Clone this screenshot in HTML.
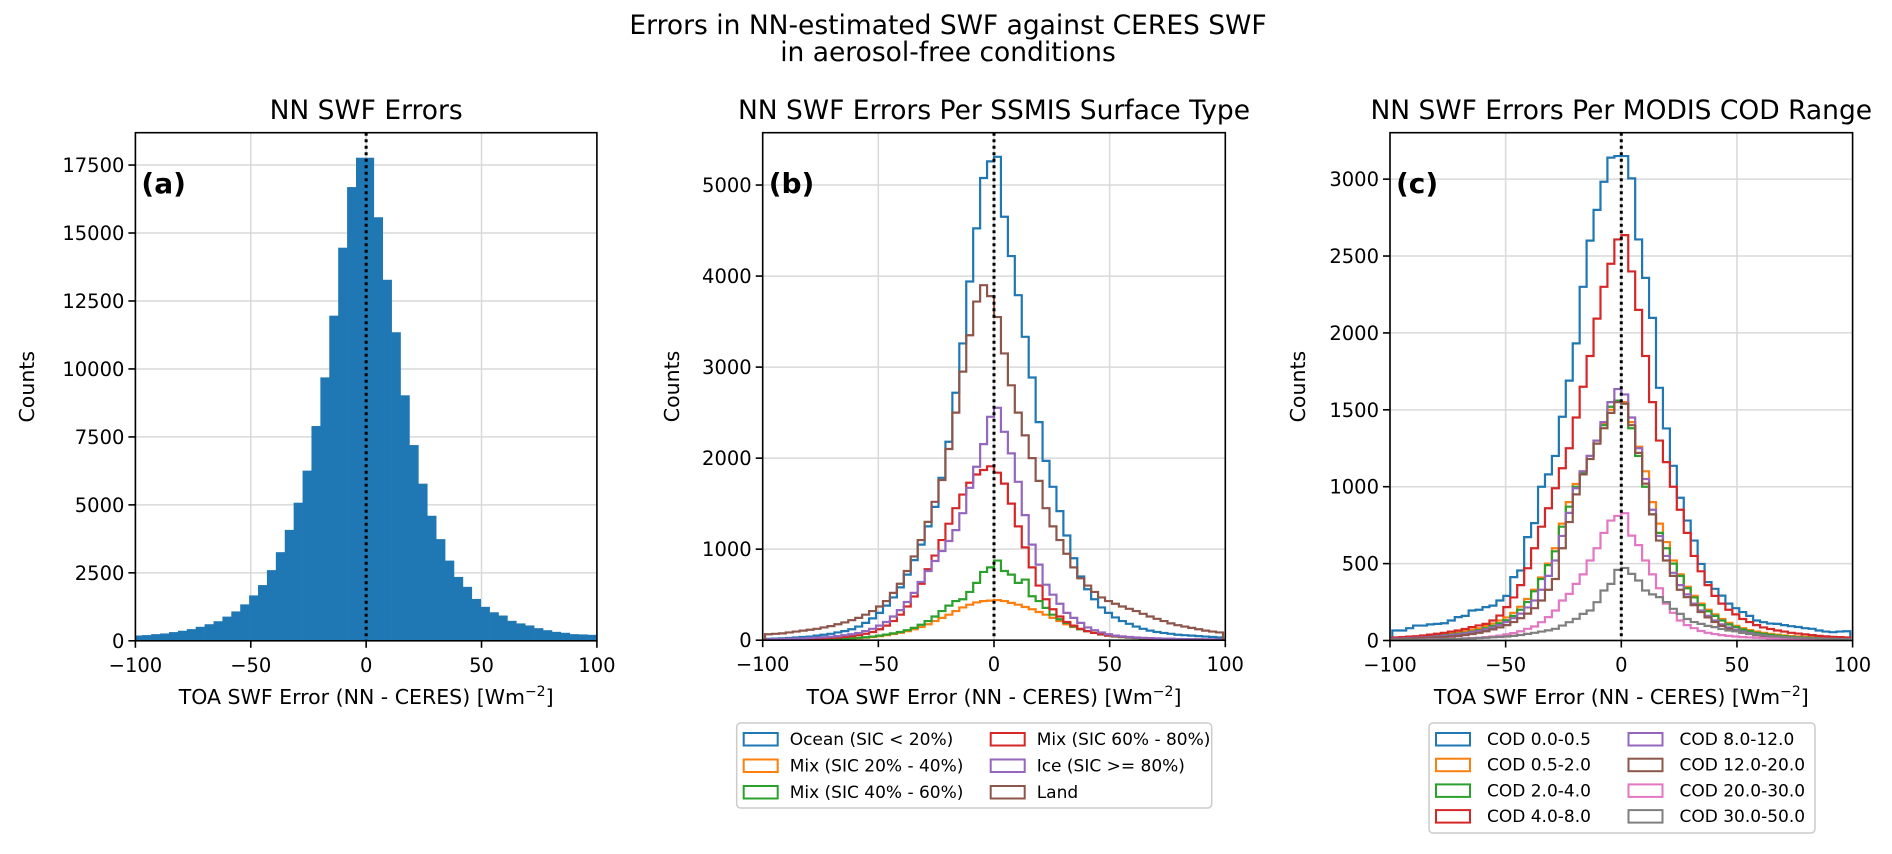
<!DOCTYPE html>
<html><head><meta charset="utf-8">
<style>
html,body{margin:0;padding:0;background:#fff;}
svg{display:block;font-family:"DejaVu Sans","Liberation Sans",sans-serif;}
</style></head>
<body>
<svg id="fig" width="1892" height="854" viewBox="0 0 1892 854" xmlns="http://www.w3.org/2000/svg">
<text x="948" y="34" font-size="26.5" text-anchor="middle" fill="#000">Errors in NN-estimated SWF against CERES SWF</text>
<text x="948" y="61" font-size="26.5" text-anchor="middle" fill="#000">in aerosol-free conditions</text>
</svg>
<script>
// ---------- data ----------
const xTicks = [-100, -50, 0, 50, 100];
const aTicksY = [0, 2500, 5000, 7500, 10000, 12500, 15000, 17500];
const bTicksY = [0, 1000, 2000, 3000, 4000, 5000];
const cTicksY = [0, 500, 1000, 1500, 2000, 2500, 3000];
const aBinStart = -100.9, aBinWidth = 3.86;
const aCounts = [195,210,245,270,320,370,430,515,610,720,890,1080,1340,1670,2050,2600,3260,4080,5080,6260,7900,9690,11960,14460,16690,17770,17770,15580,13280,11350,9030,7200,5780,4600,3740,2950,2350,1985,1540,1250,1050,930,735,640,565,465,390,330,295,245,235,220];
const stepBinStart = -99, stepBinWidth = 3;
const bOcean = [15,18,20,25,30,35,40,50,60,70,85,100,120,150,190,240,300,380,470,580,720,880,1050,1250,1465,1784,2180,2718,3260,3940,4524,5077,5260,5310,4652,4220,3790,3333,2886,2396,1970,1685,1418,1150,900,700,560,450,360,300,250,210,180,150,125,105,90,80,70,60,55,50,45,40,35,30];
const bMix20 = [4,4,5,5,6,7,8,9,10,12,14,16,19,23,28,35,45,55,68,82,100,120,145,175,210,245,280,320,360,390,415,430,435,440,430,410,390,365,340,310,280,245,210,175,145,120,100,82,68,56,46,38,32,27,23,20,17,15,13,11,10,9,8,7,6,5];
const bMix40 = [5,5,6,6,7,8,9,10,12,14,16,19,22,26,32,40,50,62,75,90,110,135,170,210,260,320,380,430,450,530,630,750,800,875,760,720,630,666,483,430,355,280,230,190,150,120,100,80,62,50,40,34,28,24,20,17,15,13,11,10,9,8,7,6,5,5];
const bMix60 = [8,9,10,11,12,14,16,18,22,26,30,36,44,55,70,90,120,160,210,280,370,480,620,780,930,1100,1280,1450,1600,1730,1820,1870,1910,1840,1720,1500,1250,1020,800,600,450,340,260,200,160,125,100,80,65,52,44,38,32,28,24,20,18,16,14,12,11,10,9,8,7,6];
const bIce = [10,12,14,16,18,20,24,28,32,38,45,55,65,80,100,125,160,200,260,330,420,520,640,760,870,980,1090,1209,1395,1674,1905,2154,2454,2553,2289,2052,1740,1374,1050,830,610,500,400,300,245,190,140,110,85,65,50,42,35,30,25,22,20,18,16,14,12,11,10,10,9,8];
const bLand = [65,70,75,85,95,105,115,125,140,155,175,195,220,245,280,320,370,430,520,620,760,920,1100,1300,1520,1760,2100,2500,2950,3350,3720,3900,3780,3550,3150,2800,2500,2250,2000,1750,1450,1250,1100,950,800,680,600,530,470,430,400,370,345,320,290,260,235,210,185,165,150,135,120,105,95,85];
const cCod00 = [65,65,80,97,97,105,108,112,130,152,160,195,200,217,227,260,290,412,455,672,763,1000,1080,1200,1455,1690,1932,2300,2600,2800,2983,3140,3150,3150,3005,2608,2358,2098,1643,1379,1136,928,780,650,498,380,336,292,240,210,185,160,130,119,110,108,100,93,88,80,76,65,58,54,58,60];
const cCod05 = [18,20,22,25,28,32,36,40,46,52,60,70,80,95,110,130,150,180,220,270,330,410,500,600,760,900,1018,1100,1200,1300,1410,1500,1560,1550,1420,1260,1100,900,760,640,520,430,350,290,240,200,170,140,115,95,80,68,58,50,43,38,33,29,26,23,21,19,17,15,14,12];
const cCod2 = [15,17,19,21,24,27,30,34,38,44,50,58,68,80,95,112,132,160,200,250,320,400,490,580,740,870,1000,1090,1200,1300,1400,1520,1560,1540,1380,1200,1000,820,700,600,500,420,340,280,230,190,160,130,105,88,72,60,50,43,37,32,28,24,21,19,17,15,13,12,11,10];
const cCod4 = [20,22,25,28,33,38,44,50,58,65,75,87,98,108,130,162,217,280,360,470,600,740,860,990,1120,1250,1450,1650,1850,2093,2300,2450,2608,2636,2400,2150,1850,1550,1300,1160,1000,850,700,550,450,360,290,240,200,170,140,120,100,85,75,65,58,50,45,40,35,30,27,24,22,20];
const cCod8 = [12,14,16,18,20,22,26,30,34,40,46,54,62,72,85,100,120,145,175,215,260,330,420,520,680,830,990,1100,1200,1300,1420,1550,1635,1600,1450,1250,1050,850,680,550,440,360,300,240,195,160,130,105,85,70,58,48,40,34,28,24,21,18,16,14,12,11,10,9,8,7];
const cCod12 = [10,11,12,14,16,18,20,23,26,30,35,42,50,60,72,85,100,120,145,175,210,260,330,400,600,770,950,1080,1180,1280,1380,1480,1550,1540,1400,1220,1020,820,650,520,420,330,282,230,185,150,120,95,76,62,50,42,35,30,26,22,19,17,15,13,12,11,10,9,8,7];
const cCod20 = [5,5,6,6,7,8,9,10,11,12,14,16,18,22,26,32,40,48,60,76,91,119,152,195,260,303,368,430,520,600,700,780,810,828,682,620,520,430,340,240,180,130,100,80,62,50,42,35,30,26,22,20,18,16,14,12,11,10,9,8,7,7,6,5,5,4];
const cCod30 = [5,5,6,6,7,7,8,9,10,11,12,14,16,18,21,23,26,30,36,43,50,58,66,76,97,119,141,173,195,249,325,368,459,472,433,390,325,300,282,250,206,173,140,120,108,95,87,75,65,60,50,43,38,33,28,26,22,20,18,16,15,13,12,11,10,9];
const bNames = ["Ocean (SIC < 20%)","Mix (SIC 20% - 40%)","Mix (SIC 40% - 60%)","Mix (SIC 60% - 80%)","Ice (SIC >= 80%)","Land"];
const cNames = ["COD 0.0-0.5","COD 0.5-2.0","COD 2.0-4.0","COD 4.0-8.0","COD 8.0-12.0","COD 12.0-20.0","COD 20.0-30.0","COD 30.0-50.0"];

// ---------- rendering ----------
const NS = "http://www.w3.org/2000/svg";
const fig = document.getElementById('fig');
const colors = ["#1f77b4","#ff7f0e","#2ca02c","#d62728","#9467bd","#8c564b","#e377c2","#7f7f7f"];
function mk(tag, attrs, parent){const e=document.createElementNS(NS,tag);for(const k in attrs)e.setAttribute(k,attrs[k]);(parent||fig).appendChild(e);return e;}
function fmt(v){return v<0?"\u2212"+Math.abs(v):String(v);}

function makeAxes(id, left, top, width, bottom, yMax, yTicks, title, letter, ylabelX){
  const g = mk('g',{});
  
  
  const ax = {
    x: v => left + (v + 100) / 200 * width,
    y: v => bottom - v / yMax * (bottom - top),
    g, left, top, width, bottom
  };
  const clip = mk('clipPath',{id:'clip-'+id}, g);
  mk('rect',{x:left,y:top,width:width,height:bottom-top}, clip);
  xTicks.forEach(t=>{const l=mk('line',{x1:ax.x(t),x2:ax.x(t),y1:top,y2:bottom,stroke:'#d9d9d9','stroke-width':1.5},g);
    });
  yTicks.forEach(t=>{const l=mk('line',{x1:left,x2:left+width,y1:ax.y(t),y2:ax.y(t),stroke:'#d9d9d9','stroke-width':1.5},g);
    });
  const plot = mk('g',{'clip-path':'url(#clip-'+id+')'}, g);
  
  
  ax.plot = plot;
  ax.finish = function(){
    const z = mk('line',{x1:ax.x(0),x2:ax.x(0),y1:top,y2:bottom,stroke:'#000','stroke-width':3,'stroke-dasharray':'3 3.5'}, g);
    
    
    const fr = mk('rect',{x:left,y:top,width:width,height:bottom-top,fill:'none',stroke:'#000','stroke-width':1.6}, g);
    
    
    xTicks.forEach(t=>{
      mk('line',{x1:ax.x(t),x2:ax.x(t),y1:bottom,y2:bottom+7,stroke:'#000','stroke-width':1.6},g);
      const tx = mk('text',{x:ax.x(t),y:bottom+31,'font-size':19.5,'text-anchor':'middle',fill:'#000'},g);
      tx.textContent = fmt(t);
      
      
    });
    yTicks.forEach(t=>{
      mk('line',{x1:left-7,x2:left,y1:ax.y(t),y2:ax.y(t),stroke:'#000','stroke-width':1.6},g);
      const tx = mk('text',{x:left-11,y:ax.y(t)+7,'font-size':19.5,'text-anchor':'end',fill:'#000'},g);
      tx.textContent = fmt(t);
      
      
    });
    const xl = mk('text',{x:left+width/2,y:704,'font-size':20.5,'text-anchor':'middle',fill:'#000'},g);
    xl.innerHTML = 'TOA SWF Error (NN - CERES) [Wm<tspan dy="-8" font-size="14">\u22122</tspan><tspan dy="8">]</tspan>';
    
    
    const ylb = mk('text',{x:ylabelX,y:(top+bottom)/2,'font-size':20.5,'text-anchor':'middle',fill:'#000',transform:'rotate(-90 '+ylabelX+' '+((top+bottom)/2)+')'},g);
    ylb.textContent = 'Counts';
    
    
    const tt = mk('text',{x:left+width/2,y:119,'font-size':26.5,'text-anchor':'middle',fill:'#000'},g);
    tt.textContent = title;
    
    
    const lt = mk('text',{x:left+6,y:193,'font-size':28,'font-weight':'bold',fill:'#000'},g);
    lt.textContent = letter;
    
    
  };
  return ax;
}

function stepPath(ax, vals, start, w){
  let d = 'M'+ax.x(start)+','+ax.y(0);
  vals.forEach((v,i)=>{
    const x0 = ax.x(start+i*w), x1 = ax.x(start+(i+1)*w);
    d += ' L'+x0+','+ax.y(v)+' L'+x1+','+ax.y(v);
  });
  d += ' L'+ax.x(start+vals.length*w)+','+ax.y(0);
  return d;
}

// Panel a
const A = makeAxes('a', 135.4, 132.7, 461.5, 640.8, 18690, aTicksY, 'NN SWF Errors', '(a)', 34);
aCounts.forEach((v,i)=>{
  const x0 = A.x(aBinStart+i*aBinWidth), x1 = A.x(aBinStart+(i+1)*aBinWidth);
  const r = mk('rect',{x:x0,y:A.y(v),width:x1-x0+0.3,height:A.y(0)-A.y(v),fill:'#1f77b4'},A.plot);
  
  
});
A.finish();

// Panel b
const B = makeAxes('b', 762.7, 132.7, 462.6, 640.2, 5575, bTicksY, 'NN SWF Errors Per SSMIS Surface Type', '(b)', 679);
[bOcean,bMix20,bMix40,bMix60,bIce,bLand].forEach((s,i)=>{
  const p = mk('path',{d:stepPath(B,s,stepBinStart,stepBinWidth),fill:'none',stroke:colors[i],'stroke-width':2.2,'stroke-linejoin':'miter'},B.plot);
  
  
});
B.finish();

// Panel c
const C = makeAxes('c', 1390, 132.7, 462.6, 640.5, 3302, cTicksY, 'NN SWF Errors Per MODIS COD Range', '(c)', 1305);
[cCod00,cCod05,cCod2,cCod4,cCod8,cCod12,cCod20,cCod30].forEach((s,i)=>{
  const p = mk('path',{d:stepPath(C,s,stepBinStart,stepBinWidth),fill:'none',stroke:colors[i],'stroke-width':2.2},C.plot);
  
  
});
C.finish();

// Legends
function legend(id, x, y, w, h, names, rows, col2Patch, textOff, rowH){
  const g = mk('g',{});
  
  
  mk('rect',{x:x,y:y,width:w,height:h,rx:4,fill:'#fff',stroke:'#cccccc','stroke-width':1.5},g);
  names.forEach((n,i)=>{
    const col = Math.floor(i/rows), row = i%rows;
    const px = x + 7 + col*col2Patch, py = y + 10 + row*rowH;
    const e = mk('g',{},g);
    
    
    mk('rect',{x:px,y:py,width:34,height:12.5,fill:'none',stroke:colors[i],'stroke-width':2},e);
    const t = mk('text',{x:px+textOff,y:py+12,'font-size':17,fill:'#000'},e);
    t.textContent = n;
  });
}
legend('b', 736.7, 723, 475, 85, bNames, 3, 247, 46, 26.5);
legend('c', 1429, 723, 386, 110, cNames, 4, 192.5, 51, 25.7);
</script>
</body></html>
